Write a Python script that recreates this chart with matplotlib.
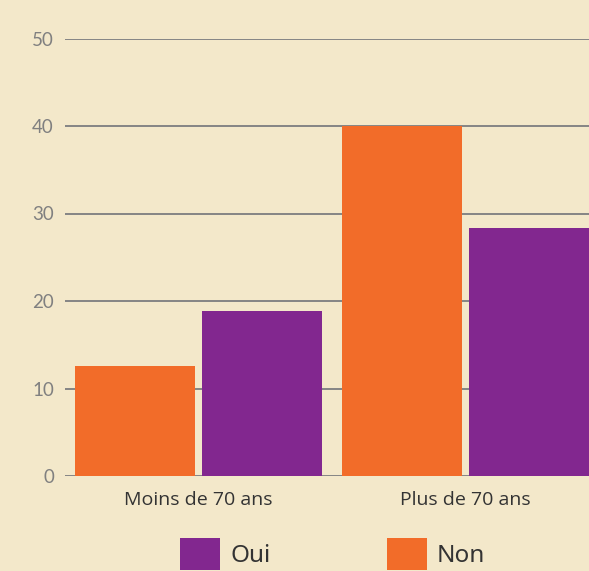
import matplotlib
matplotlib.use("Agg")
import matplotlib.pyplot as plt
from matplotlib.patches import Patch
import numpy as np

# data
categories = ["Moins de 70 ans", "Plus de 70 ans"]
non_values = [12.6, 40]
oui_values = [18.9, 28.3]
y_ticks = [0, 10, 20, 30, 40, 50]

orange = "#F26C29"
purple = "#82278F"
paper = "#F3E8CA"

fig = plt.figure(figsize=(5.89, 5.71), dpi=100)
fig.patch.set_facecolor(paper)

# axes: left at 65px, y=0 at 476px, y=40 at 126px, runs off the right edge
top_px = 476 - 50 * (476 - 126) / 40
ax = fig.add_axes([65 / 589, 1 - 476 / 571, 1 - 65 / 589, (476 - top_px) / 571])
ax.set_facecolor("none")

x = np.arange(len(categories))
width = 0.45
offset = 0.238
ax.bar(x - offset, non_values, width, color=orange, zorder=3)
ax.bar(x + offset, oui_values, width, color=purple, zorder=3)

ax.set_xlim(-0.5, 1.4625)
ax.set_ylim(0, 50)
ax.set_yticks(y_ticks)
ax.set_yticklabels([str(v) for v in y_ticks], family="Lato", fontsize=13.5, color="#808080")
ax.set_xticks(x)
ax.set_xticklabels(categories, family="Open Sans", fontsize=14, color="#333333")
ax.tick_params(axis="y", length=0, pad=8)
ax.tick_params(axis="x", length=0, pad=11)
ax.grid(axis="y", color="#858585", linewidth=1.4, zorder=0)
for side in ["top", "right", "left", "bottom"]:
    ax.spines[side].set_visible(False)

handles = [Patch(facecolor=purple, label="Oui"), Patch(facecolor=orange, label="Non")]
fig.legend(handles=handles, loc="upper left", bbox_to_anchor=(180 / 589, 1 - 538 / 571),
           ncol=2, frameon=False, borderpad=0, borderaxespad=0,
           handlelength=1.65, handleheight=1.65, handletextpad=0.41, columnspacing=4.8,
           prop={"family": "Noto Sans", "size": 17.5})
for t in fig.legends[0].get_texts():
    t.set_color("#333333")

fig.savefig("out.png", dpi=100, facecolor=paper)
